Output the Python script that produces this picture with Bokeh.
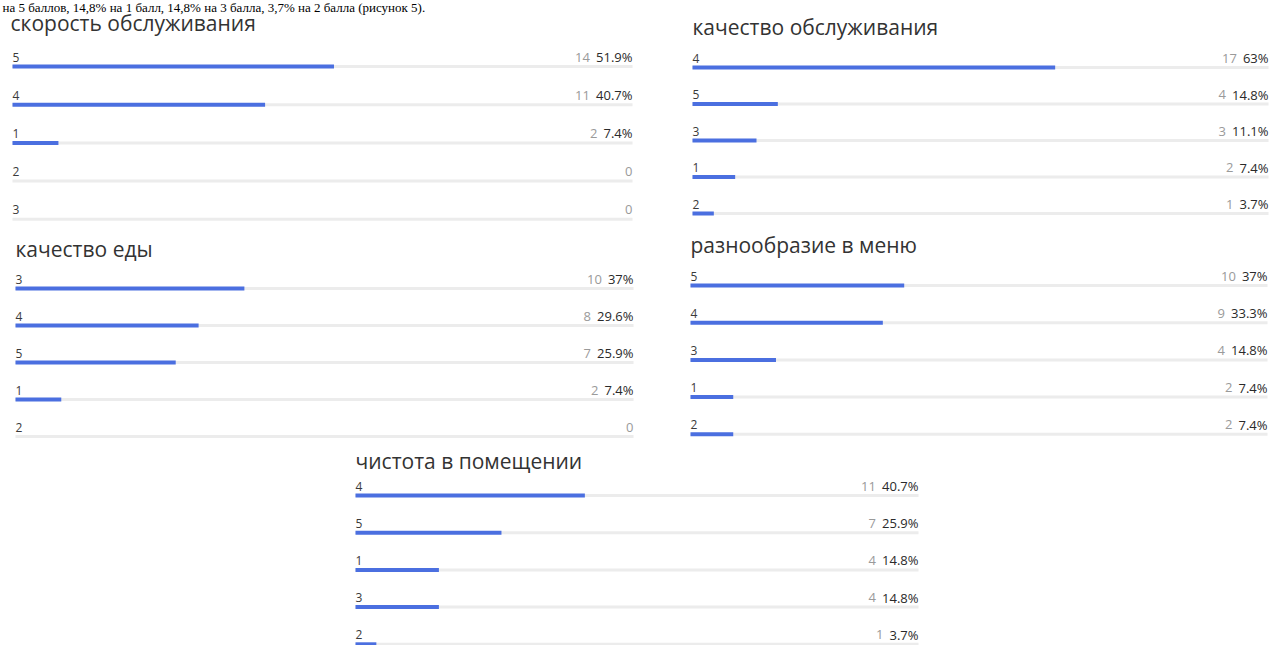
from bokeh.plotting import figure
from bokeh.models import Range1d, ColumnDataSource
from bokeh.core.properties import value
from bokeh.embed import file_html
from bokeh.resources import INLINE

TOTAL = 27
header_text = "на 5 баллов, 14,8% на 1 балл, 14,8% на 3 балла, 3,7% на 2 балла (рисунок 5)."

speed_title = "скорость обслуживания"
speed_labels = ["5", "4", "1", "2", "3"]
speed_counts = [14, 11, 2, 0, 0]

service_title = "качество обслуживания"
service_labels = ["4", "5", "3", "1", "2"]
service_counts = [17, 4, 3, 2, 1]

food_title = "качество еды"
food_labels = ["3", "4", "5", "1", "2"]
food_counts = [10, 8, 7, 2, 0]

menu_title = "разнообразие в меню"
menu_labels = ["5", "4", "3", "1", "2"]
menu_counts = [10, 9, 4, 2, 2]

clean_title = "чистота в помещении"
clean_labels = ["4", "5", "1", "3", "2"]
clean_counts = [11, 7, 4, 4, 1]

W, H = 1277, 645
FONT = "Open Sans"
BLUE = "#4b6fe0"
TRACK = "#ececec"
VAL_SIZE = 13
LAB_SIZE = 12
ADV = {"0": .572, "1": .572, "2": .572, "3": .572, "4": .572, "5": .572, "6": .572,
       "7": .572, "8": .572, "9": .572, ".": .266, "%": .828}


def text_w(s, size):
    return sum(ADV.get(ch, .55) for ch in s) * size


p = figure(width=W, height=H, output_backend="svg", toolbar_location=None,
           title=None, x_axis_location=None, y_axis_location=None,
           x_range=Range1d(0, W), y_range=Range1d(H, 0),
           min_border_left=0, min_border_right=0, min_border_top=0, min_border_bottom=0)
p.grid.visible = False
p.outline_line_color = None
p.background_fill_color = "white"
p.border_fill_color = "white"

# line of the document above the charts (shrunk so that it stays whole)
p.text(x=[2], y=[7], text=[header_text], text_font=value("Liberation Serif"),
       text_font_size="13px", text_color="#000000", text_baseline="middle",
       text_align="left")


def panel(key, title, labels, counts, left, track_w, row0, step, title_x, title_mid):
    n = len(labels)
    xr, yr = "x_" + key, "y_" + key
    # percent scale 0..100 spans the track
    p.extra_x_ranges[xr] = Range1d(-left / track_w * 100, (W - left) / track_w * 100)
    # rows 0..n-1 are evenly spaced
    p.extra_y_ranges[yr] = Range1d((H - row0) / step, -row0 / step)

    ys = list(range(n))
    pcts = [c / TOTAL * 100 for c in counts]
    pct_txt = [f"{round(v, 1):g}%" if c > 0 else "" for v, c in zip(pcts, counts)]
    cnt_txt = [str(c) for c in counts]
    cnt_x = [100 - (text_w(t, VAL_SIZE) + 6) / track_w * 100 if t else 100 for t in pct_txt]
    ty = [y - 9.5 / step for y in ys]

    src = ColumnDataSource(dict(y=ys, ty=ty, pct=pcts, label=labels, pct_txt=pct_txt,
                                cnt_txt=cnt_txt, cnt_x=cnt_x,
                                x0=[0] * n, x1=[100] * n))
    kw = dict(source=src, x_range_name=xr, y_range_name=yr)

    p.segment(x0="x0", x1="x1", y0="y", y1="y", line_color=TRACK, line_width=3, **kw)
    p.segment(x0="x0", x1="pct", y0="y", y1="y", line_color=BLUE, line_width=4,
              line_cap="butt", **kw)
    p.text(x="x0", y="ty", text="label", text_font=value(FONT),
           text_font_size=f"{LAB_SIZE}px", text_color="#3a3a3a",
           text_baseline="middle", text_align="left", **kw)
    p.text(x="x1", y="ty", text="pct_txt", text_font=value(FONT),
           text_font_size=f"{VAL_SIZE}px", text_color="#2a2a2a",
           text_baseline="middle", text_align="right", **kw)
    p.text(x="cnt_x", y="ty", text="cnt_txt", text_font=value(FONT),
           text_font_size=f"{VAL_SIZE}px", text_color="#9a9a9a",
           text_baseline="middle", text_align="right", **kw)

    p.text(x=[title_x], y=[title_mid], text=[title], text_font=value(FONT),
           text_font_size="21px", text_color="#333333",
           text_baseline="middle", text_align="left")


panel("tl", speed_title, speed_labels, speed_counts, 12, 620, 66, 38.2, 10, 22)
panel("tr", service_title, service_labels, service_counts, 692, 576, 67, 36.5, 692, 26)
panel("ml", food_title, food_labels, food_counts, 15, 618, 288, 37.0, 15, 248)
panel("mr", menu_title, menu_labels, menu_counts, 690, 577, 285, 37.2, 690, 244)
panel("bt", clean_title, clean_labels, clean_counts, 355, 563, 495, 37.2, 355, 460)

open("out.html", "w").write(file_html(p, INLINE))
